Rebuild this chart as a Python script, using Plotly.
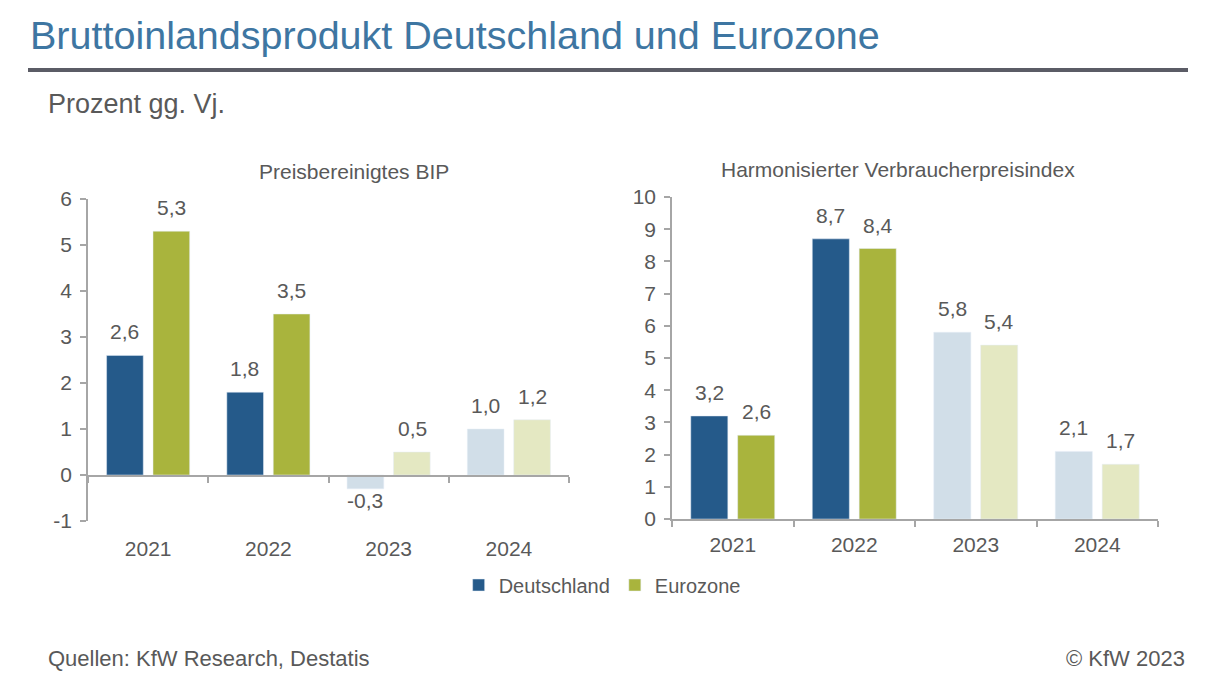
import plotly.graph_objects as go

years = ["2021", "2022", "2023", "2024"]
bip_de = [2.6, 1.8, -0.3, 1.0]
bip_ez = [5.3, 3.5, 0.5, 1.2]
hvpi_de = [3.2, 8.7, 5.8, 2.1]
hvpi_ez = [2.6, 8.4, 5.4, 1.7]

bip_ticks = [-1, 0, 1, 2, 3, 4, 5, 6]
bip_ticktext = ["-1", "0", "1", "2", "3", "4", "5", "6"]
hvpi_ticks = list(range(0, 11))

col_de = ["#255a8a", "#255a8a", "#d1dee8", "#d1dee8"]
col_ez = ["#a9b43d", "#a9b43d", "#e4e8c2", "#e4e8c2"]

W, H = 1214, 682
GRAY = "#595959"
AX = "#a6a6a6"
FONT = "Liberation Sans"
FS = 21

fig = go.Figure()

fig.add_trace(go.Bar(x=years, y=bip_de, name="Deutschland", marker=dict(color=col_de),
                     xaxis="x", yaxis="y", legendgroup="de"))
fig.add_trace(go.Bar(x=years, y=bip_ez, name="Eurozone", marker=dict(color=col_ez),
                     xaxis="x", yaxis="y", legendgroup="ez"))
fig.add_trace(go.Bar(x=years, y=hvpi_de, name="Deutschland", marker=dict(color=col_de),
                     xaxis="x2", yaxis="y2", legendgroup="de", showlegend=False))
fig.add_trace(go.Bar(x=years, y=hvpi_ez, name="Eurozone", marker=dict(color=col_ez),
                     xaxis="x2", yaxis="y2", legendgroup="ez", showlegend=False))

# value labels (x given as category index)
ann = []
def fmt(v):
    return f"{v:.1f}".replace(".", ",")
for xr, yr, series in [("x", "y", [(bip_de, -23.5), (bip_ez, 23.5)]),
                       ("x2", "y2", [(hvpi_de, -23.5), (hvpi_ez, 23.5)])]:
    for vals, xs in series:
        for i, v in enumerate(vals):
            ann.append(dict(x=i, y=v, xref=xr, yref=yr, text=fmt(v), showarrow=False,
                            xshift=xs, yshift=10 if v >= 0 else 2,
                            yanchor="bottom" if v >= 0 else "top",
                            font=dict(size=FS, color=GRAY, family=FONT)))

def py(y):
    return 1 - y / H

def px(x):
    return x / W

ann += [
    dict(text="Bruttoinlandsprodukt Deutschland und Eurozone", x=px(28), y=py(35), xref="paper", yref="paper",
         xanchor="left", yanchor="middle", showarrow=False, font=dict(size=39.5, color="#3e76a2", family=FONT)),
    dict(text="Prozent gg. Vj.", x=px(46), y=py(104), xref="paper", yref="paper",
         xanchor="left", yanchor="middle", showarrow=False, font=dict(size=27, color=GRAY, family=FONT)),
    dict(text="Preisbereinigtes BIP", x=px(354), y=py(171), xref="paper", yref="paper",
         xanchor="center", yanchor="middle", showarrow=False, font=dict(size=FS, color=GRAY, family=FONT)),
    dict(text="Harmonisierter Verbraucherpreisindex", x=px(898), y=py(169), xref="paper", yref="paper",
         xanchor="center", yanchor="middle", showarrow=False, font=dict(size=FS, color=GRAY, family=FONT)),
    dict(text="Quellen: KfW Research, Destatis", x=px(46), y=py(658), xref="paper", yref="paper",
         xanchor="left", yanchor="middle", showarrow=False, font=dict(size=22, color=GRAY, family=FONT)),
    dict(text="© KfW 2023", x=px(1187), y=py(658), xref="paper", yref="paper",
         xanchor="right", yanchor="middle", showarrow=False, font=dict(size=22, color=GRAY, family=FONT)),
]

tickfont = dict(size=FS, color=GRAY, family=FONT)

fig.update_layout(
    width=W, height=H,
    margin=dict(l=0, r=0, t=0, b=0, autoexpand=False),
    paper_bgcolor="white", plot_bgcolor="white",
    barmode="group", bargap=0.228, bargroupgap=0.21,
    separators=",.",
    font=dict(family=FONT, color=GRAY),
    annotations=ann,
    shapes=[dict(type="line", xref="paper", yref="paper", x0=px(28), x1=px(1188), y0=py(70), y1=py(70),
                 line=dict(color="#5b5c66", width=4))],
    legend=dict(orientation="h", x=0.496, xanchor="center", y=py(585), yanchor="middle",
                font=dict(size=20, color=GRAY, family=FONT), itemwidth=30, traceorder="normal",
                bgcolor="rgba(0,0,0,0)"),
    xaxis=dict(type="category", range=[-0.5, 3.5], domain=[px(88), px(569)], anchor="free", position=py(476),
               showline=True, linecolor=AX, linewidth=1.5, ticks="outside", tickson="boundaries", ticklen=6,
               tickcolor=AX, tickwidth=1.5, tickfont=tickfont, ticklabelstandoff=54, showgrid=False,
               zeroline=False, automargin=False, tickangle=0),
    yaxis=dict(domain=[py(521), py(199)], anchor="x", range=[-1, 6], tickvals=bip_ticks, ticktext=bip_ticktext,
               showline=True, linecolor=AX, linewidth=1.5, ticks="outside", ticklen=6, tickcolor=AX,
               tickwidth=1.5, tickfont=tickfont, showgrid=False, zeroline=False, ticklabelstandoff=4,
               automargin=False),
    xaxis2=dict(type="category", range=[-0.5, 3.5], domain=[px(672), px(1158)], anchor="y2", showline=True,
                linecolor=AX, linewidth=1.5, ticks="outside", tickson="boundaries", ticklen=6, tickcolor=AX,
                tickwidth=1.5, tickfont=tickfont, showgrid=False, zeroline=False, ticklabelstandoff=6,
                automargin=False, tickangle=0),
    yaxis2=dict(domain=[py(519), py(197)], anchor="x2", range=[0, 10], tickvals=hvpi_ticks, showline=True,
                linecolor=AX, linewidth=1.5, ticks="outside", ticklen=6, tickcolor=AX, tickwidth=1.5,
                tickfont=tickfont, showgrid=False, zeroline=False, ticklabelstandoff=4, automargin=False),
)

fig.write_html("out.html")
